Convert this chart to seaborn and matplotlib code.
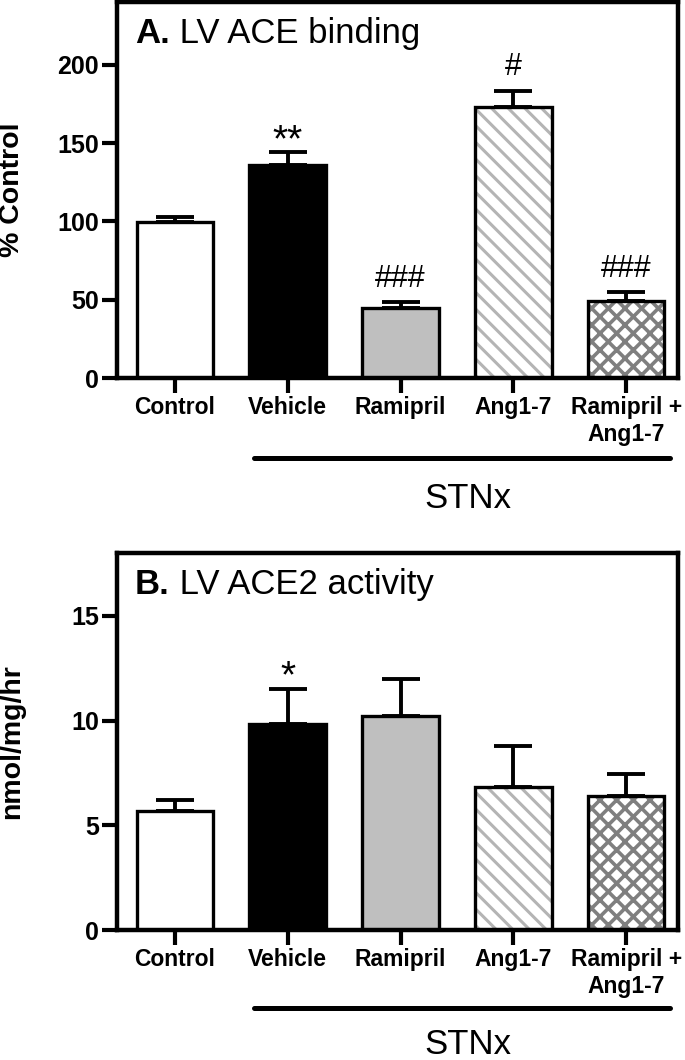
import matplotlib
matplotlib.use('Agg')
import matplotlib.pyplot as plt
import seaborn as sns
import numpy as np
from matplotlib.patches import Rectangle

# data
groups = ['Control', 'Vehicle', 'Ramipril', 'Ang1-7', 'Ramipril +\nAng1-7']
ace_mean = [99.5, 136, 44.5, 173, 49]
ace_sem = [3, 8, 4, 10.5, 6]
ace_marks = ['', '**', '###', '#', '###']
ace2_mean = [5.7, 9.85, 10.2, 6.85, 6.4]
ace2_sem = [0.5, 1.65, 1.8, 1.95, 1.05]
ace2_marks = ['', '*', '', '', '']

fills = ['white', 'black', '#bfbfbf', 'white', 'white']
hatches = [None, None, None, '\\\\', 'xx']
hatch_colors = [None, None, None, '#b4b4b4', '#7f7f7f']
hatch_widths = [None, None, None, 2.2, 2.6]

sns.set_style('ticks')
plt.rcParams['font.family'] = ['Liberation Sans', 'DejaVu Sans']
plt.rcParams.update({'text.color': 'black', 'axes.labelcolor': 'black',
                     'axes.edgecolor': 'black', 'xtick.color': 'black',
                     'ytick.color': 'black'})

W, H = 685, 1060
fig = plt.figure(figsize=(W / 100, H / 100), dpi=100)
ax1 = fig.add_axes([117 / W, 1 - 378 / H, 561 / W, 376 / H])
ax2 = fig.add_axes([117 / W, 1 - 930 / H, 561 / W, 377 / H])


def panel(ax, means, sems, marks, letter, title, ylabel, ymax, yticks):
    sns.barplot(x=groups, y=means, hue=groups, palette=fills, legend=False,
                width=0.68, edgecolor='black', linewidth=2.4, saturation=1,
                errorbar=None, ax=ax, zorder=2)
    bars = list(ax.patches)
    for p, h, hc, hw in zip(bars, hatches, hatch_colors, hatch_widths):
        if h:
            with plt.rc_context({'hatch.linewidth': hw}):
                r = Rectangle(p.get_xy(), p.get_width(), p.get_height(),
                              facecolor='white', edgecolor=hc, hatch=h,
                              lw=0, zorder=1.5)
            ax.add_patch(r)
            p.set_facecolor('none')
    x = np.arange(len(groups))
    ax.errorbar(x, means, yerr=[np.zeros(len(means)), sems], fmt='none',
                ecolor='black', elinewidth=2.8, capsize=14, capthick=2.8,
                zorder=1)
    for i, (m, s, mk) in enumerate(zip(means, sems, marks)):
        if not mk:
            continue
        if '*' in mk:
            ax.annotate(mk, xy=(i, m + s), xytext=(0, 1), textcoords='offset points',
                        ha='center', va='baseline', fontsize=28)
        else:
            ax.annotate(mk, xy=(i, m + s), xytext=(0, 11), textcoords='offset points',
                        ha='center', va='baseline', fontsize=22)

    ax.set_xlim(-0.514, 4.46)
    ax.set_ylim(0, ymax)
    ax.set_yticks(yticks)
    for sp in ax.spines.values():
        sp.set_visible(True)
        sp.set_linewidth(3.2)
        sp.set_color('black')
    ax.tick_params(axis='both', direction='out', length=11, width=3, pad=2)
    ax.tick_params(axis='y', labelsize=18)
    ax.tick_params(axis='x', labelsize=16.5)
    for lab in ax.get_xticklabels() + ax.get_yticklabels():
        lab.set_fontweight('bold')
    ax.set_ylabel(ylabel, fontsize=20.5, fontweight='bold')
    ax.yaxis.set_label_coords(-0.164, 0.5)
    ax.set_xlabel('')

    t = ax.text(0.032, 0.892, letter, transform=ax.transAxes, fontsize=25,
                fontweight='bold', va='baseline')
    ax.annotate(' ' + title, xy=(1, 0), xycoords=t, va='bottom', fontsize=25)


panel(ax1, ace_mean, ace_sem, ace_marks, 'A.', 'LV ACE binding', '% Control',
      240, [0, 50, 100, 150, 200])
panel(ax2, ace2_mean, ace2_sem, ace2_marks, 'B.', 'LV ACE2 activity', 'nmol/mg/hr',
      18, [0, 5, 10, 15])

# STNx bracket under the treated groups
for ax, yl, yt in [(ax1, -0.2128, -0.3457), (ax2, -0.2069, -0.3290)]:
    tr = ax.get_xaxis_transform()
    ax.plot([0.7, 4.39], [yl, yl], color='black', lw=3.6, solid_capstyle='round',
            transform=tr, clip_on=False)
    ax.text(2.6, yt, 'STNx', transform=tr, ha='center', va='baseline', fontsize=25)

fig.savefig('out.png', dpi=100)
